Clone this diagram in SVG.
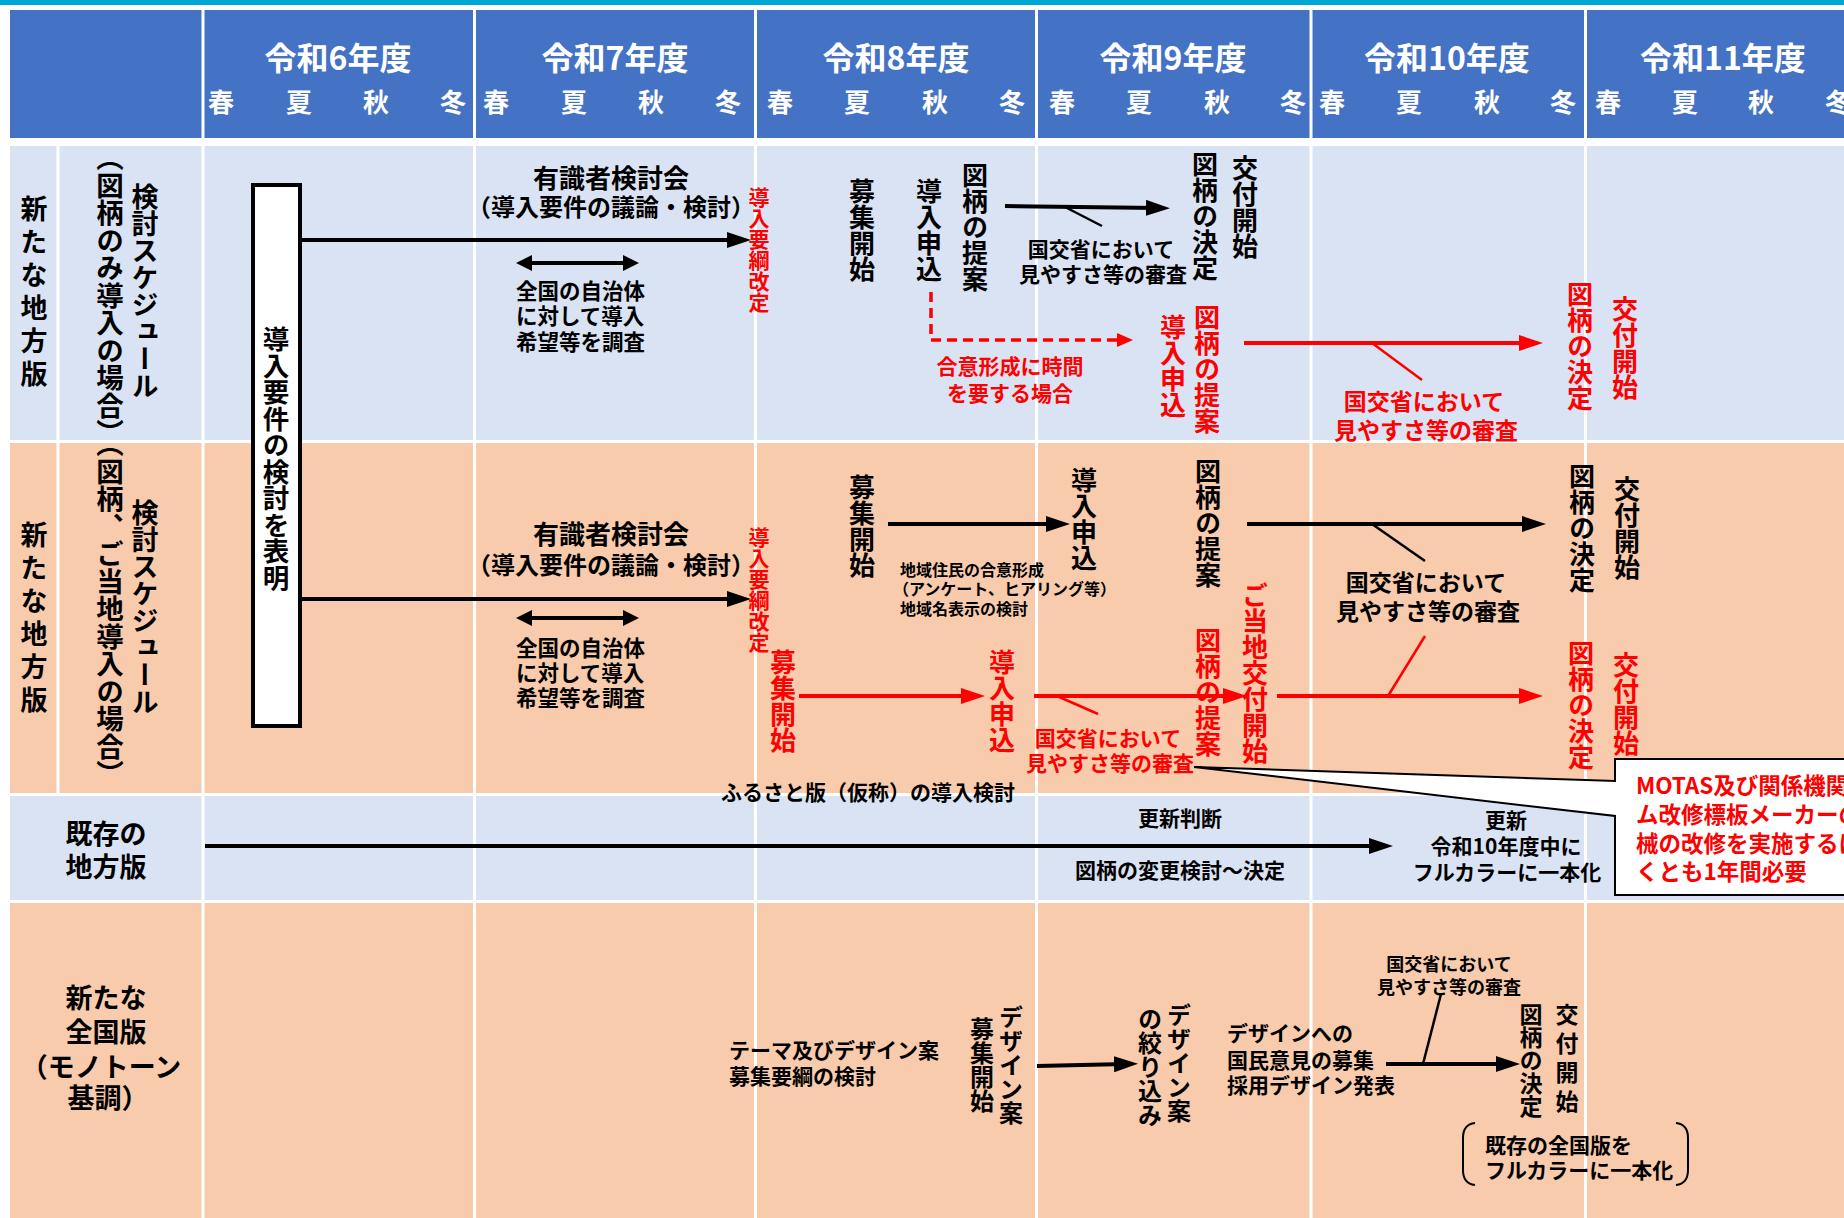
<svg xmlns="http://www.w3.org/2000/svg" width="1844" height="1218" viewBox="0 0 1844 1218">
<style>
text { font-family: "Noto Sans CJK JP", "Noto Sans", sans-serif; font-weight: 700; fill: #000; }
.r { fill: #ff0000; }
.w { fill: #ffffff; }
.c { text-anchor: middle; }
.v { writing-mode: vertical-rl; text-anchor: start; }
.ln { stroke: #000; stroke-width: 4; fill: none; }
.lr { stroke: #ff0000; stroke-width: 4; fill: none; }
.tk { stroke: #000; stroke-width: 2.5; fill: none; }
.tr { stroke: #ff0000; stroke-width: 2.5; fill: none; }
.grid { fill: #ffffff; }
</style>
<defs>
<marker id="ab" viewBox="0 0 24 16" refX="12" refY="8" markerWidth="24" markerHeight="16" markerUnits="userSpaceOnUse" orient="auto"><path d="M0,0 L24,8 L0,16 z" fill="#000"/></marker>
<marker id="ar" viewBox="0 0 24 16" refX="12" refY="8" markerWidth="24" markerHeight="16" markerUnits="userSpaceOnUse" orient="auto"><path d="M0,0 L24,8 L0,16 z" fill="#ff0000"/></marker>
<marker id="ad" viewBox="0 0 16 16" refX="8" refY="8" markerWidth="16" markerHeight="16" markerUnits="userSpaceOnUse" orient="auto-start-reverse"><path d="M0,0 L16,8 L0,16 z" fill="#000"/></marker>
<marker id="ard" viewBox="0 0 16 14" refX="6" refY="7" markerWidth="16" markerHeight="14" markerUnits="userSpaceOnUse" orient="auto"><path d="M0,0 L16,7 L0,14 z" fill="#ff0000"/></marker>
</defs>

<g id="background">
<rect x="0" y="0" width="1844" height="1218" fill="#ffffff"/>
<rect x="0" y="0" width="1844" height="5" fill="#00A6D6"/>
<rect x="10" y="10" width="1834" height="128" fill="#4472C4"/>
<rect x="10" y="146" width="1834" height="294" fill="#DAE3F3"/>
<rect x="10" y="443" width="1834" height="350" fill="#F8CBAD"/>
<rect x="10" y="796" width="1834" height="104" fill="#DAE3F3"/>
<rect x="10" y="903" width="1834" height="315" fill="#F8CBAD"/>
<rect class="grid" x="201.5" y="10" width="3" height="1208"/>
<rect class="grid" x="473" y="10" width="3" height="1208"/>
<rect class="grid" x="754" y="10" width="3" height="1208"/>
<rect class="grid" x="1035" y="10" width="3" height="1208"/>
<rect class="grid" x="1309.5" y="10" width="3" height="1208"/>
<rect class="grid" x="1584" y="10" width="3" height="1208"/>
<rect class="grid" x="56.5" y="146" width="3" height="647"/>
</g>

<g id="header">
<text class="w c" x="338" y="70" font-size="32">令和6年度</text>
<text class="w c" x="615" y="70" font-size="32">令和7年度</text>
<text class="w c" x="896" y="70" font-size="32">令和8年度</text>
<text class="w c" x="1173" y="70" font-size="32">令和9年度</text>
<text class="w c" x="1447" y="70" font-size="32">令和10年度</text>
<text class="w c" x="1723" y="70" font-size="32">令和11年度</text>
<g font-size="26">
<text class="w c" x="221" y="112">春</text><text class="w c" x="299" y="112">夏</text><text class="w c" x="376" y="112">秋</text><text class="w c" x="453" y="112">冬</text>
<text class="w c" x="496" y="112">春</text><text class="w c" x="574" y="112">夏</text><text class="w c" x="651" y="112">秋</text><text class="w c" x="728" y="112">冬</text>
<text class="w c" x="780" y="112">春</text><text class="w c" x="857" y="112">夏</text><text class="w c" x="935" y="112">秋</text><text class="w c" x="1012" y="112">冬</text>
<text class="w c" x="1062" y="112">春</text><text class="w c" x="1139" y="112">夏</text><text class="w c" x="1217" y="112">秋</text><text class="w c" x="1293" y="112">冬</text>
<text class="w c" x="1332" y="112">春</text><text class="w c" x="1409" y="112">夏</text><text class="w c" x="1487" y="112">秋</text><text class="w c" x="1563" y="112">冬</text>
<text class="w c" x="1608" y="112">春</text><text class="w c" x="1685" y="112">夏</text><text class="w c" x="1761" y="112">秋</text><text class="w c" x="1838" y="112">冬</text>
</g>
</g>

<g id="row-labels">
<text class="v" x="34" y="195" font-size="27" letter-spacing="6">新たな地方版</text>
<text class="v" x="145" y="183" font-size="27">検討スケジュール</text>
<text class="v" x="110" y="144" font-size="27.5">（図柄のみ導入の場合）</text>
<text class="v" x="34" y="521" font-size="27" letter-spacing="6">新たな地方版</text>
<text class="v" x="145" y="499" font-size="27">検討スケジュール</text>
<text class="v" x="110" y="430" font-size="27.5">（図柄、ご当地導入の場合）</text>
<text class="c" x="106" y="844" font-size="27">既存の</text>
<text class="c" x="106" y="877" font-size="27">地方版</text>
<text class="c" x="106" y="1008" font-size="27">新たな</text>
<text class="c" x="106" y="1042" font-size="27">全国版</text>
<text class="c" x="101" y="1077" font-size="27">（モノトーン</text>
<text class="c" x="108" y="1108" font-size="27">基調）</text>
</g>

<g id="node-announce">
<rect x="253" y="185" width="47" height="541" fill="#ffffff" stroke="#000" stroke-width="4"/>
<text class="v" x="276" y="326" font-size="26.5">導入要件の検討を表明</text>
</g>

<g id="connectors">
<line class="ln" x1="302" y1="240" x2="739" y2="240" marker-end="url(#ab)"/>
<line class="ln" x1="302" y1="599" x2="739" y2="599" marker-end="url(#ab)"/>
<line class="ln" x1="524" y1="263" x2="631" y2="263" marker-start="url(#ad)" marker-end="url(#ad)"/>
<line class="ln" x1="524" y1="618" x2="631" y2="618" marker-start="url(#ad)" marker-end="url(#ad)"/>
<line class="ln" x1="1005" y1="206" x2="1158" y2="208" marker-end="url(#ab)"/>
<line class="tk" x1="1065" y1="207" x2="1102" y2="226"/>
<path d="M931,292 L931,340 L1123,340" stroke="#ff0000" stroke-width="3.5" stroke-dasharray="10 6" fill="none" marker-end="url(#ard)"/>
<line class="lr" x1="1244" y1="343" x2="1531" y2="343" marker-end="url(#ar)"/>
<line class="tr" x1="1372" y1="343" x2="1422" y2="380"/>
<line class="ln" x1="888" y1="524" x2="1058" y2="524" marker-end="url(#ab)"/>
<line class="ln" x1="1247" y1="524" x2="1534" y2="524" marker-end="url(#ab)"/>
<line class="tk" x1="1372" y1="524" x2="1425" y2="561"/>
<line class="lr" x1="799" y1="696" x2="973" y2="696" marker-end="url(#ar)"/>
<line class="lr" x1="1034" y1="696" x2="1235" y2="696" marker-end="url(#ar)"/>
<line class="tr" x1="1057" y1="696" x2="1098" y2="714"/>
<line class="lr" x1="1277" y1="696" x2="1531" y2="696" marker-end="url(#ar)"/>
<line class="tr" x1="1388" y1="696" x2="1425" y2="636"/>
<line class="ln" x1="205" y1="846" x2="1381" y2="846" marker-end="url(#ab)"/>
<line class="ln" x1="1037" y1="1066" x2="1126" y2="1064" marker-end="url(#ab)"/>
<line class="ln" x1="1386" y1="1064" x2="1508" y2="1064" marker-end="url(#ab)"/>
<line class="tk" x1="1423" y1="1064" x2="1441" y2="994"/>
</g>

<g id="row1-nodes">
<text class="c" x="611" y="188" font-size="26">有識者検討会</text>
<text class="c" x="611" y="216" font-size="24">（導入要件の議論・検討）</text>
<text x="516" y="299" font-size="21.5">全国の自治体</text>
<text x="516" y="324" font-size="21.5">に対して導入</text>
<text x="516" y="350" font-size="21.5">希望等を調査</text>
<text class="v r" x="759" y="187" font-size="21">導入要綱改定</text>
<text class="v" x="862" y="178" font-size="26">募集開始</text>
<text class="v" x="929" y="178" font-size="26">導入申込</text>
<text class="v" x="975" y="162" font-size="26">図柄の提案</text>
<text class="c" x="1101" y="257" font-size="21">国交省において</text>
<text class="c" x="1103" y="281.5" font-size="21">見やすさ等の審査</text>
<text class="v" x="1205" y="151" font-size="26">図柄の決定</text>
<text class="v" x="1245" y="155" font-size="26">交付開始</text>
<text class="c r" x="1010" y="373.5" font-size="21">合意形成に時間</text>
<text class="c r" x="1010" y="400.5" font-size="21">を要する場合</text>
<text class="v r" x="1173" y="314" font-size="26">導入申込</text>
<text class="v r" x="1207" y="304" font-size="26">図柄の提案</text>
<text class="c r" x="1424" y="410" font-size="23">国交省において</text>
<text class="c r" x="1426" y="439" font-size="23">見やすさ等の審査</text>
<text class="v r" x="1580" y="281" font-size="26">図柄の決定</text>
<text class="v r" x="1625" y="296" font-size="26">交付開始</text>
</g>

<g id="row2-nodes">
<text class="c" x="611" y="544" font-size="26">有識者検討会</text>
<text class="c" x="611" y="574" font-size="24">（導入要件の議論・検討）</text>
<text x="516" y="655.5" font-size="21.5">全国の自治体</text>
<text x="516" y="680.5" font-size="21.5">に対して導入</text>
<text x="516" y="705.5" font-size="21.5">希望等を調査</text>
<text class="v r" x="759" y="527" font-size="21">導入要綱改定</text>
<text class="v" x="862" y="474" font-size="26">募集開始</text>
<text x="900" y="576" font-size="16">地域住民の合意形成</text>
<text x="893" y="595" font-size="16">（アンケート、ヒアリング等）</text>
<text x="900" y="615" font-size="16">地域名表示の検討</text>
<text class="v" x="1084" y="467" font-size="26">導入申込</text>
<text class="v" x="1208" y="458" font-size="26">図柄の提案</text>
<text class="c" x="1426" y="591" font-size="23">国交省において</text>
<text class="c" x="1428" y="620" font-size="23">見やすさ等の審査</text>
<text class="v" x="1582" y="463" font-size="26">図柄の決定</text>
<text class="v" x="1627" y="476" font-size="26">交付開始</text>
<text class="v r" x="783" y="649" font-size="26">募集開始</text>
<text class="v r" x="1002" y="649" font-size="26">導入申込</text>
<text class="c r" x="1108" y="745.5" font-size="21">国交省において</text>
<text class="c r" x="1110" y="770.5" font-size="21">見やすさ等の審査</text>
<text class="v r" x="1208" y="627" font-size="26">図柄の提案</text>
<text class="v r" x="1255" y="582" font-size="26">ご当地交付開始</text>
<text class="v r" x="1581" y="640" font-size="26">図柄の決定</text>
<text class="v r" x="1626" y="652" font-size="26">交付開始</text>
<text x="721" y="800" font-size="21">ふるさと版（仮称）の導入検討</text>
</g>

<g id="callout">
<path d="M1194,767 L1615,781 L1615,759 L1850,759 L1850,895 L1615,895 L1615,816 Z" fill="#ffffff" stroke="#000" stroke-width="2"/>
<text class="r" x="1636" y="794" font-size="22.5">MOTAS及び関係機関</text>
<text class="r" x="1636" y="823" font-size="22.5">ム改修標板メーカーの</text>
<text class="r" x="1636" y="852" font-size="22.5">械の改修を実施するに</text>
<text class="r" x="1636" y="880" font-size="22.5">くとも1年間必要</text>
</g>

<g id="row3-nodes">
<text class="c" x="1180" y="826" font-size="21">更新判断</text>
<text class="c" x="1180" y="877.5" font-size="21">図柄の変更検討～決定</text>
<text class="c" x="1506" y="828" font-size="21">更新</text>
<text class="c" x="1506" y="854" font-size="21">令和10年度中に</text>
<text class="c" x="1507" y="879.5" font-size="21">フルカラーに一本化</text>
</g>

<g id="row4-nodes">
<text x="729" y="1058" font-size="21">テーマ及びデザイン案</text>
<text x="729" y="1083.5" font-size="21">募集要綱の検討</text>
<text class="v" x="1011" y="1005" font-size="24">デザイン案</text>
<text class="v" x="982" y="1017" font-size="24">募集開始</text>
<text class="v" x="1179" y="1003" font-size="24">デザイン案</text>
<text class="v" x="1150" y="1007" font-size="24">の絞り込み</text>
<text x="1227" y="1041" font-size="21">デザインへの</text>
<text x="1227" y="1067.5" font-size="21">国民意見の募集</text>
<text x="1227" y="1092.5" font-size="21">採用デザイン発表</text>
<text class="c" x="1449" y="970.5" font-size="18">国交省において</text>
<text class="c" x="1449" y="993.5" font-size="18">見やすさ等の審査</text>
<text class="v" x="1531" y="1003" font-size="23">図柄の決定</text>
<text class="v" x="1567" y="1003" font-size="23" letter-spacing="6">交付開始</text>
<path d="M1475,1123 C1466,1124 1463,1130 1463,1138 L1463,1170 C1463,1178 1466,1184 1475,1185" stroke="#000" stroke-width="2" fill="none"/>
<path d="M1676,1123 C1685,1124 1688,1130 1688,1138 L1688,1170 C1688,1178 1685,1184 1676,1185" stroke="#000" stroke-width="2" fill="none"/>
<text x="1485" y="1152.5" font-size="21">既存の全国版を</text>
<text x="1485" y="1177.5" font-size="21">フルカラーに一本化</text>
</g>
</svg>
